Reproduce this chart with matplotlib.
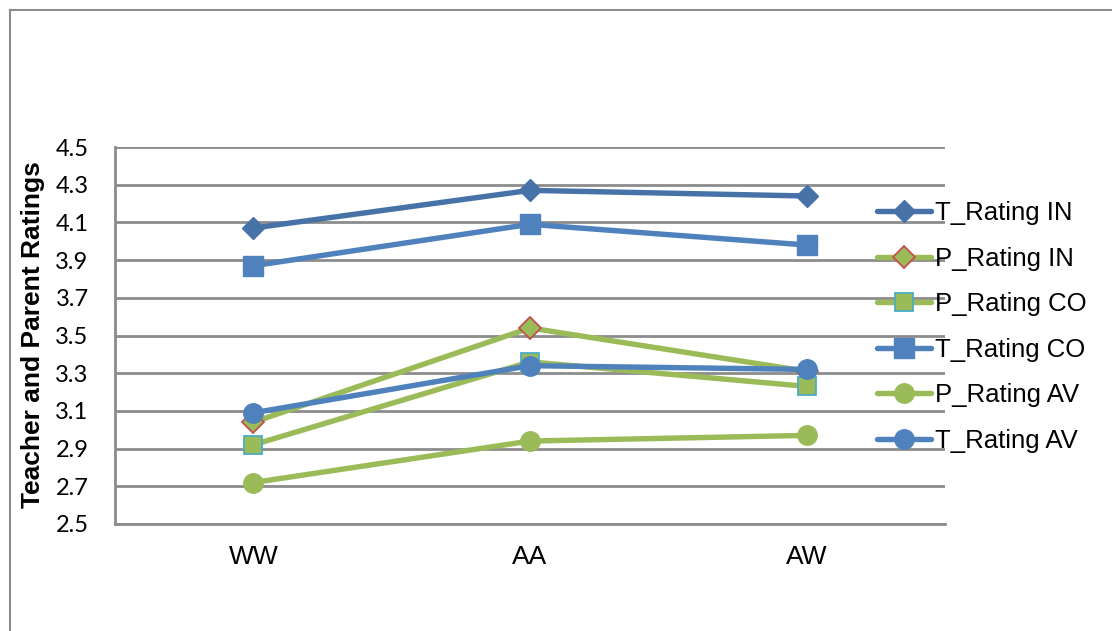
import matplotlib
matplotlib.use("Agg")
import matplotlib.pyplot as plt
from matplotlib.lines import Line2D

# Group categories on the x axis
groups = ["WW", "AA", "AW"]

# Mean ratings per group
t_rating_in = [4.07, 4.27, 4.24]
p_rating_in = [3.04, 3.54, 3.31]
p_rating_co = [2.92, 3.36, 3.23]
t_rating_co = [3.87, 4.09, 3.98]
p_rating_av = [2.72, 2.94, 2.97]
t_rating_av = [3.09, 3.34, 3.32]

y_ticks = [2.5, 2.7, 2.9, 3.1, 3.3, 3.5, 3.7, 3.9, 4.1, 4.3, 4.5]

BLUE_DARK = "#4672A8"
BLUE = "#4F81BD"
GREEN = "#9BBB59"
RED = "#C0504D"
TEAL = "#4BACC6"
GRID = "#8C8C8C"

W, H = 1112, 631
fig = plt.figure(figsize=(W / 100, H / 100), dpi=100)
fig.patch.set_facecolor("white")

ax = fig.add_axes([115 / W, 1 - 524 / H, (945 - 115) / W, (524 - 147) / H])
x = list(range(len(groups)))

lw = 3.9
series = [
    ("T_Rating IN", t_rating_in, dict(color=BLUE_DARK, marker="D", markersize=11.5,
                                      markerfacecolor=BLUE_DARK, markeredgecolor=BLUE_DARK)),
    ("P_Rating IN", p_rating_in, dict(color=GREEN, marker="D", markersize=11,
                                      markerfacecolor=GREEN, markeredgecolor=RED,
                                      markeredgewidth=1.3)),
    ("P_Rating CO", p_rating_co, dict(color=GREEN, marker="s", markersize=13.5,
                                      markerfacecolor=GREEN, markeredgecolor=TEAL,
                                      markeredgewidth=1.3)),
    ("T_Rating CO", t_rating_co, dict(color=BLUE, marker="s", markersize=14,
                                      markerfacecolor=BLUE, markeredgecolor=BLUE)),
    ("P_Rating AV", p_rating_av, dict(color=GREEN, marker="o", markersize=14,
                                      markerfacecolor=GREEN, markeredgecolor=GREEN)),
    ("T_Rating AV", t_rating_av, dict(color=BLUE, marker="o", markersize=14,
                                      markerfacecolor=BLUE, markeredgecolor=BLUE)),
]

for i, (label, vals, style) in enumerate(series):
    ax.plot(x, vals, linewidth=lw, label=label, zorder=3 + i,
            solid_capstyle="round", solid_joinstyle="round", **style)

ax.set_xlim(-0.5, 2.5)
ax.set_ylim(2.5, 4.5)
ax.set_yticks(y_ticks)
ax.set_yticklabels([f"{v:.1f}" for v in y_ticks], family="Lato", fontsize=17)
ax.set_xticks(x)
ax.set_xticklabels(groups, family="Liberation Sans", fontsize=19)
ax.tick_params(axis="y", length=0, pad=19)
ax.tick_params(axis="x", length=0, pad=15)

ax.yaxis.grid(True, color=GRID, linewidth=2)
ax.set_axisbelow(True)
for side in ("top", "right"):
    ax.spines[side].set_visible(False)
for side in ("left", "bottom"):
    ax.spines[side].set_color(GRID)
    ax.spines[side].set_linewidth(2)

fig.text(33 / W, 1 - 335 / H, "Teacher and Parent Ratings", rotation=90,
         ha="center", va="center", family="Liberation Sans", fontweight="bold",
         fontsize=19)

leg = ax.legend(loc="upper left", bbox_to_anchor=(877 / W, 1 - 201 / H),
                bbox_transform=fig.transFigure, frameon=False,
                prop={"family": "Liberation Sans", "size": 18.5},
                handlelength=2.1, handletextpad=0.15, labelspacing=0.84,
                borderpad=0, borderaxespad=0)

# Chart frame
frame_kw = dict(color="#8C8C8C", linewidth=1.5, transform=fig.transFigure)
fig.add_artist(Line2D([10 / W, 10 / W], [0, 1 - 10 / H], **frame_kw))
fig.add_artist(Line2D([10 / W, 1], [1 - 10 / H, 1 - 10 / H], **frame_kw))

fig.savefig("out.png", dpi=100, facecolor="white")
